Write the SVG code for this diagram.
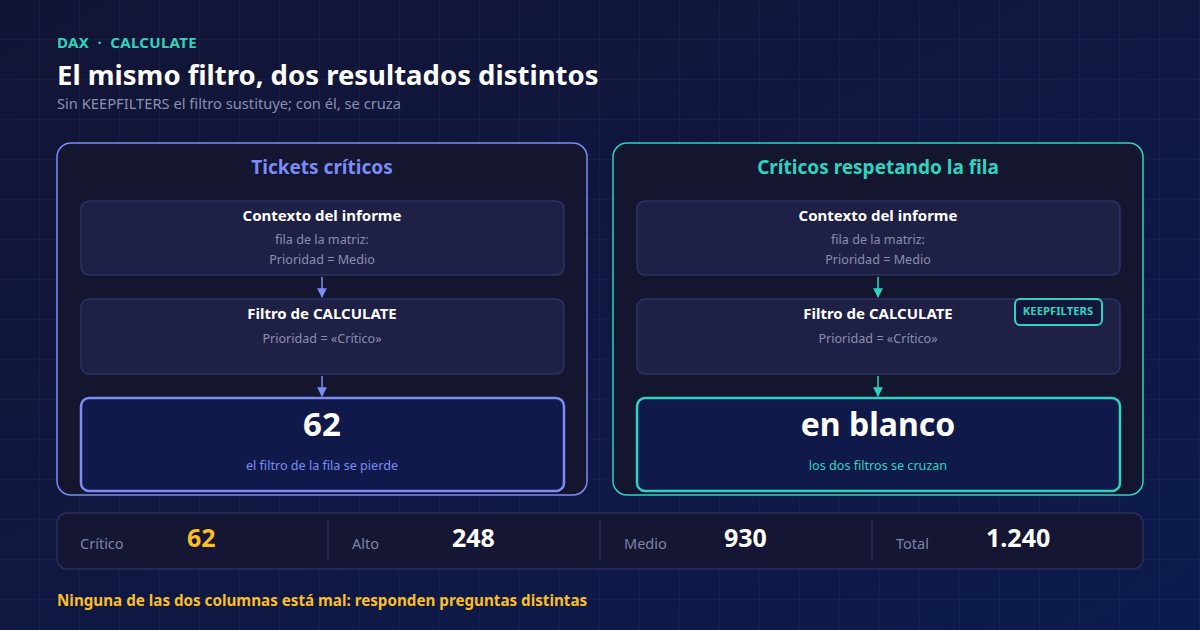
<svg xmlns="http://www.w3.org/2000/svg" width="1200" height="630" viewBox="0 0 1200 630">
<defs>
<linearGradient id="bg" x1="0" y1="0" x2="1" y2="1">
<stop offset="0" stop-color="#121434"/>
<stop offset="1" stop-color="#0c1b4e"/>
</linearGradient>
<pattern id="grid" width="40" height="40" patternUnits="userSpaceOnUse">
<path d="M40 0V40M0 40H40" fill="none" stroke="#2a3570" stroke-opacity="0.45" stroke-width="1"/>
</pattern>
<marker id="arrB" viewBox="0 0 10 10" refX="9" refY="5" markerWidth="6.5" markerHeight="6.5" orient="auto"><path d="M0 0L10 5L0 10z" fill="#7b8cf5"/></marker>
<marker id="arrT" viewBox="0 0 10 10" refX="9" refY="5" markerWidth="6.5" markerHeight="6.5" orient="auto"><path d="M0 0L10 5L0 10z" fill="#2dd4bf"/></marker>
<style>
text{font-family:"Noto Sans","Open Sans","DejaVu Sans",sans-serif}
.b{font-weight:700}
.panel{fill:#14152f}
.step{fill:#1f2045;stroke:#2e3263;stroke-width:1.5}
.st{font-size:15px;font-weight:700;fill:#ffffff;text-anchor:middle}
.sd{font-size:12.6px;fill:#8a8fae;text-anchor:middle}
.res{fill:#0f1a4a;stroke-width:2.5}
.lab{font-size:14.5px;fill:#7d83a6}
.val{font-size:25px;font-weight:700;fill:#ffffff}
</style>
</defs>
<rect width="1200" height="630" fill="url(#bg)"/>
<rect width="1200" height="630" fill="url(#grid)"/>

<text x="57" y="48" class="b" font-size="15" fill="#2dd4bf" letter-spacing="0.3" xml:space="preserve">DAX  ·  CALCULATE</text>
<text x="57" y="85" class="b" font-size="27.5" fill="#ffffff">El mismo filtro, dos resultados distintos</text>
<text x="57" y="109" font-size="14.7" fill="#8a90b0">Sin KEEPFILTERS el filtro sustituye; con él, se cruza</text>

<g id="panel-left">
<rect x="57" y="143" width="530" height="352" rx="14" class="panel" stroke="#7b8cf5" stroke-width="1.5"/>
<text x="322" y="174" class="b" font-size="19" fill="#7b8cf5" text-anchor="middle">Tickets críticos</text>
</g>
<g id="left-context">
<rect x="81" y="201" width="483" height="74" rx="8" class="step"/>
<text x="322" y="221" class="st">Contexto del informe</text>
<text x="322" y="244" class="sd">fila de la matriz:</text>
<text x="322" y="264" class="sd">Prioridad = Medio</text>
</g>
<g id="left-filter">
<rect x="81" y="299" width="483" height="75" rx="8" class="step"/>
<text x="322" y="319" class="st">Filtro de CALCULATE</text>
<text x="322" y="343" class="sd">Prioridad = «Crítico»</text>
</g>
<g id="left-result">
<rect x="81" y="398" width="483" height="93" rx="8" class="res" stroke="#7b8cf5"/>
<text x="322" y="436" class="b" font-size="33" fill="#ffffff" text-anchor="middle">62</text>
<text x="322" y="470" font-size="12.6" fill="#7b8cf5" text-anchor="middle">el filtro de la fila se pierde</text>
</g>

<g id="panel-right">
<rect x="613" y="143" width="530" height="352" rx="14" class="panel" stroke="#2dd4bf" stroke-width="1.5"/>
<text x="878" y="174" class="b" font-size="19" fill="#2dd4bf" text-anchor="middle">Críticos respetando la fila</text>
</g>
<g id="right-context">
<rect x="637" y="201" width="483" height="74" rx="8" class="step"/>
<text x="878" y="221" class="st">Contexto del informe</text>
<text x="878" y="244" class="sd">fila de la matriz:</text>
<text x="878" y="264" class="sd">Prioridad = Medio</text>
</g>
<g id="right-filter">
<rect x="637" y="299" width="483" height="75" rx="8" class="step"/>
<text x="878" y="319" class="st">Filtro de CALCULATE</text>
<text x="878" y="343" class="sd">Prioridad = «Crítico»</text>
</g>
<g id="keepfilters-badge">
<rect x="1015" y="299" width="87" height="26" rx="5" fill="#12163a" stroke="#2dd4bf" stroke-width="2"/>
<text x="1058" y="315" class="b" font-size="11.3" fill="#2dd4bf" text-anchor="middle">KEEPFILTERS</text>
</g>
<g id="right-result">
<rect x="637" y="398" width="483" height="93" rx="8" class="res" stroke="#2dd4bf"/>
<text x="878" y="436" class="b" font-size="32" fill="#ffffff" text-anchor="middle">en blanco</text>
<text x="878" y="470" font-size="12.6" fill="#2dd4bf" text-anchor="middle">los dos filtros se cruzan</text>
</g>

<g id="connectors" stroke-width="1.5">
<line x1="322" y1="277" x2="322" y2="297" stroke="#7b8cf5" marker-end="url(#arrB)"/>
<line x1="322" y1="376" x2="322" y2="396" stroke="#7b8cf5" marker-end="url(#arrB)"/>
<line x1="878" y1="277" x2="878" y2="297" stroke="#2dd4bf" marker-end="url(#arrT)"/>
<line x1="878" y1="376" x2="878" y2="396" stroke="#2dd4bf" marker-end="url(#arrT)"/>
</g>

<g id="stats">
<rect x="57" y="513" width="1086" height="56" rx="10" fill="#141634" stroke="#2a2f5e" stroke-width="1.5"/>
<line x1="328" y1="520" x2="328" y2="562" stroke="#2a2f5e"/>
<line x1="600" y1="520" x2="600" y2="562" stroke="#2a2f5e"/>
<line x1="872" y1="520" x2="872" y2="562" stroke="#2a2f5e"/>
<text x="80" y="549" class="lab">Crítico</text>
<text x="187" y="547" class="val" style="fill:#fbbf24">62</text>
<text x="352" y="549" class="lab">Alto</text>
<text x="452" y="547" class="val">248</text>
<text x="624" y="549" class="lab">Medio</text>
<text x="724" y="547" class="val">930</text>
<text x="896" y="549" class="lab">Total</text>
<text x="986" y="547" class="val">1.240</text>
</g>

<text x="57" y="606" class="b" font-size="15.2" fill="#fbbf24">Ninguna de las dos columnas está mal: responden preguntas distintas</text>
</svg>
